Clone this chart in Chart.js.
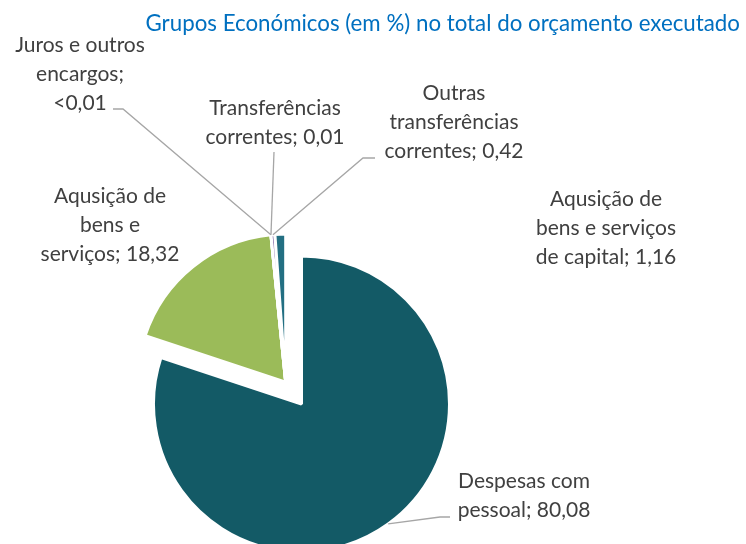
<!DOCTYPE html>
<html>
<head>
<meta charset="utf-8">
<script src="https://cdn.jsdelivr.net/npm/chart.js@4.4.1/dist/chart.umd.min.js"></script>
<style>
  html, body { margin: 0; padding: 0; background: #fff; }
  #wrap { position: relative; width: 746px; height: 544px; }
</style>
</head>
<body>
<div id="wrap"><canvas id="budgetChart"></canvas></div>
<script>
// Economic groups, share (%) of the executed budget
const chartTitle = 'Grupos Económicos (em %) no total do orçamento executado';
const categories = [
    ['Despesas com', 'pessoal'],
    ['Aqusição de', 'bens e', 'serviços'],
    ['Juros e outros', 'encargos'],
    ['Transferências', 'correntes'],
    ['Outras', 'transferências', 'correntes'],
    ['Aqusição de', 'bens e serviços', 'de capital']
];
const shares = [80.08, 18.32, 0.004, 0.01, 0.42, 1.16];
const sliceColors = ['#135a66', '#9bbb59', '#4bacc6', '#f79646', '#8064a2', '#236f82'];

// where each label sits (centre x, first baseline) and where its leader line starts
const labelSpots = [
    { x: 524, y: 488, leader: [[450, 517], [440, 517]] },
    { x: 110, y: 203 },
    { x: 80, y: 52, valueBreak: true, leader: [[113, 109], [123, 109]] },
    { x: 275, y: 115, leader: [[274, 152]] },
    { x: 454, y: 100, leader: [[375, 158], [363, 158]] },
    { x: 606, y: 206 }
];
const lineGap = 28.8;
const explodeFrom = 1;   // slices from this index on are pulled out as one group
const explodeBy = 27;

function fmtShare(v) {
    return v < 0.01 ? '<0,01' : v.toFixed(2).replace('.', ',');
}

// pull the minor slices away from the centre along the bisector of the group
const explodeGroup = {
    id: 'explodeGroup',
    afterUpdate(chart) {
        const arcs = chart.getDatasetMeta(0).data;
        const first = arcs[explodeFrom];
        const last = arcs[arcs.length - 1];
        const mid = (first.startAngle + last.endAngle) / 2;
        const dx = Math.cos(mid) * explodeBy;
        const dy = Math.sin(mid) * explodeBy;
        for (let i = explodeFrom; i < arcs.length; i++) {
            arcs[i].x += dx;
            arcs[i].y += dy;
        }
    }
};

// data labels with leader lines, plus the title
const sliceLabels = {
    id: 'sliceLabels',
    afterDatasetsDraw(chart) {
        const ctx = chart.ctx;
        const arcs = chart.getDatasetMeta(0).data;
        ctx.save();

        ctx.strokeStyle = '#a6a6a6';
        ctx.lineWidth = 1.3;
        arcs.forEach((arc, i) => {
            const spot = labelSpots[i];
            if (!spot.leader) return;
            const mid = (arc.startAngle + arc.endAngle) / 2;
            ctx.beginPath();
            spot.leader.forEach(([px, py], k) => k ? ctx.lineTo(px, py) : ctx.moveTo(px, py));
            ctx.lineTo(arc.x + Math.cos(mid) * arc.outerRadius, arc.y + Math.sin(mid) * arc.outerRadius);
            ctx.stroke();
        });

        ctx.font = '21px Lato';
        ctx.fillStyle = '#404040';
        ctx.textAlign = 'center';
        ctx.textBaseline = 'alphabetic';
        arcs.forEach((arc, i) => {
            const spot = labelSpots[i];
            const lines = categories[i].slice();
            const value = fmtShare(shares[i]);
            if (spot.valueBreak) {
                lines[lines.length - 1] += ';';
                lines.push(value);
            } else {
                lines[lines.length - 1] += '; ' + value;
            }
            lines.forEach((t, k) => ctx.fillText(t, spot.x, spot.y + k * lineGap));
        });

        ctx.font = '22.3px Lato';
        ctx.fillStyle = '#0070c0';
        ctx.textAlign = 'right';
        ctx.fillText(chartTitle, 740, 31);
        ctx.restore();
    }
};

new Chart(document.getElementById('budgetChart'), {
    type: 'pie',
    data: {
        labels: categories.map(c => c.join(' ')),
        datasets: [{
            data: shares,
            backgroundColor: sliceColors,
            borderColor: '#ffffff',
            borderWidth: 3,
            radius: 148,
            clip: false
        }]
    },
    options: {
        responsive: true,
        maintainAspectRatio: false,
        animation: false,
        layout: {
            padding: { left: 0, right: 143, top: 264, bottom: 0 }
        },
        plugins: {
            legend: { display: false },
            tooltip: { enabled: false }
        }
    },
    plugins: [explodeGroup, sliceLabels]
});
</script>
</body>
</html>
